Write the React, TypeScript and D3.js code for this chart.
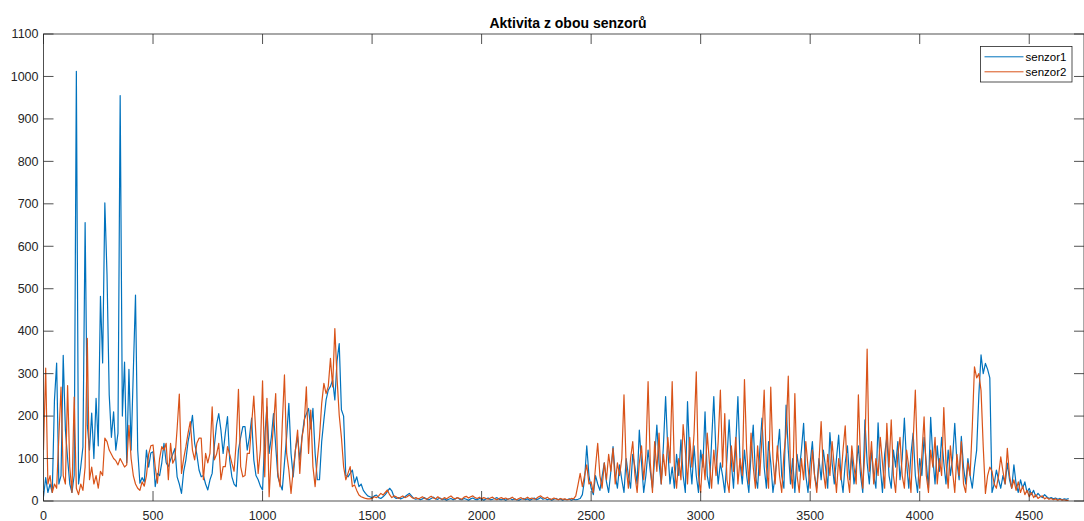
import React from "react";
import * as d3 from "d3";

// Sample index step between stored readings
const SAMPLE_STEP = 10;

// senzor1 readings, every 10 samples (0 .. 4680)
const senzor1: number[] = [
  10, 55, 20, 40, 20, 237, 325, 40, 60, 343,
  167, 100, 40, 20, 60, 1012, 40, 80, 127, 656,
  180, 120, 207, 100, 242, 130, 482, 325, 702, 532,
  250, 150, 210, 120, 160, 955, 200, 327, 90, 310,
  120, 305, 485, 120, 42, 55, 45, 120, 80, 113,
  116, 34, 65, 60, 90, 136, 90, 81, 97, 110,
  124, 57, 40, 18, 70, 97, 140, 167, 202, 136,
  110, 73, 57, 60, 40, 26, 50, 65, 130, 180,
  206, 167, 112, 160, 199, 97, 57, 40, 34, 120,
  150, 175, 175, 120, 150, 195, 97, 60, 50, 35,
  26, 150, 222, 112, 150, 206, 130, 57, 40, 26,
  90, 152, 230, 112, 57, 120, 152, 97, 150, 191,
  205, 218, 170, 218, 112, 50, 50, 140, 191, 238,
  261, 270, 285, 238, 330, 371, 215, 200, 60, 57,
  65, 73, 42, 57, 34, 40, 25, 18, 12, 10,
  8, 12, 14, 8, 6, 10, 15, 22, 30, 24,
  10, 6, 8, 5, 7, 10, 14, 18, 12, 6,
  4, 6, 3, 5, 8, 4, 3, 6, 9, 5,
  4, 7, 3, 5, 2, 4, 6, 3, 5, 8,
  4, 3, 6, 4, 2, 5, 7, 4, 3, 6,
  4, 2, 5, 7, 3, 4, 6, 8, 4, 3,
  5, 2, 4, 6, 3, 5, 3, 2, 4, 6,
  3, 5, 2, 4, 7, 3, 5, 8, 4, 6,
  3, 5, 2, 4, 6, 3, 5, 2, 4, 3,
  5, 2, 4, 3, 4, 6, 15, 50, 130, 60,
  30, 15, 60, 40, 25, 57, 90, 45, 20, 70,
  128, 60, 30, 85, 50, 20, 100, 60, 30, 110,
  80, 40, 167, 90, 20, 60, 120, 70, 30, 100,
  179, 90, 40, 130, 246, 120, 40, 80, 30, 110,
  60, 144, 60, 20, 234, 100, 40, 130, 60, 20,
  120, 80, 210, 60, 30, 140, 246, 110, 40, 90,
  60, 20, 100, 191, 90, 30, 130, 246, 90, 40,
  120, 60, 20, 110, 179, 60, 30, 120, 195, 80,
  30, 140, 90, 20, 60, 110, 169, 60, 30, 226,
  120, 40, 100, 20, 110, 70, 120, 183, 60, 20,
  90, 140, 60, 30, 100, 50, 120, 80, 30, 161,
  90, 40, 100, 155, 60, 20, 90, 130, 50, 110,
  40, 80, 130, 60, 20, 191, 90, 40, 120, 60,
  30, 184, 80, 20, 110, 150, 60, 30, 120, 80,
  140, 50, 100, 195, 90, 30, 110, 160, 60, 20,
  100, 60, 150, 90, 30, 197, 100, 40, 130, 70,
  150, 90, 40, 120, 60, 100, 183, 90, 50, 152,
  80, 40, 100, 60, 30, 80, 120, 250, 344, 300,
  324, 310, 290, 20, 40, 73, 50, 30, 60, 40,
  89, 50, 30, 85, 40, 20, 50, 30, 45, 20,
  30, 15, 25, 10, 18, 12, 8, 15, 10, 6,
  8, 5, 7, 4, 6, 3, 5, 4, 6,
];

// senzor2 readings, every 10 samples (0 .. 4680)
const senzor2: number[] = [
  120, 313, 40, 60, 20, 40, 30, 150, 268, 60,
  40, 272, 80, 20, 245, 30, 15, 40, 25, 80,
  383, 50, 80, 40, 60, 30, 70, 60, 148, 140,
  120, 110, 100, 95, 85, 100, 90, 80, 85, 178,
  100, 60, 40, 30, 25, 45, 35, 60, 110, 130,
  132, 80, 42, 100, 128, 120, 136, 50, 136, 89,
  100, 170, 252, 65, 100, 128, 160, 187, 120, 97,
  136, 148, 148, 50, 112, 90, 112, 222, 97, 110,
  136, 50, 81, 81, 128, 110, 89, 70, 140, 263,
  81, 57, 60, 112, 112, 180, 247, 152, 65, 120,
  283, 57, 242, 10, 112, 180, 253, 65, 34, 180,
  297, 112, 73, 18, 73, 120, 167, 65, 150, 180,
  269, 112, 214, 81, 34, 97, 150, 230, 277, 253,
  270, 336, 269, 406, 290, 202, 150, 81, 50, 65,
  81, 34, 38, 25, 14, 10, 8, 6, 5, 5,
  6, 10, 8, 12, 18, 14, 20, 26, 15, 8,
  12, 10, 6, 9, 12, 8, 10, 14, 9, 6,
  8, 5, 7, 10, 6, 4, 8, 11, 7, 5,
  10, 6, 4, 8, 5, 9, 12, 7, 5, 8,
  6, 4, 9, 11, 7, 10, 12, 8, 6, 9,
  5, 8, 6, 4, 7, 9, 5, 3, 6, 8,
  5, 7, 4, 6, 9, 5, 3, 6, 8, 4,
  6, 9, 5, 7, 4, 6, 10, 12, 8, 6,
  9, 5, 4, 7, 5, 3, 6, 4, 5, 3,
  4, 6, 5, 12, 38, 65, 34, 60, 85, 40,
  45, 20, 80, 136, 60, 30, 90, 50, 110, 70,
  124, 40, 90, 60, 100, 250, 80, 30, 100, 140,
  60, 20, 90, 130, 50, 110, 281, 90, 20, 140,
  70, 160, 40, 110, 60, 150, 90, 281, 80, 30,
  100, 50, 180, 120, 40, 150, 80, 160, 304, 60,
  20, 110, 50, 160, 90, 30, 120, 60, 140, 261,
  80, 206, 50, 20, 130, 70, 150, 40, 100, 60,
  286, 120, 40, 160, 80, 30, 130, 60, 150, 261,
  80, 30, 268, 100, 40, 130, 60, 20, 110, 160,
  294, 70, 30, 253, 60, 20, 100, 50, 140, 80,
  30, 120, 60, 20, 90, 187, 70, 30, 110, 60,
  140, 80, 20, 100, 50, 120, 177, 60, 20, 130,
  80, 40, 250, 90, 30, 120, 358, 70, 140, 40,
  100, 60, 150, 90, 30, 183, 80, 191, 60, 20,
  110, 150, 60, 30, 120, 80, 20, 140, 261, 90,
  30, 110, 198, 60, 20, 120, 80, 150, 40, 100,
  60, 220, 90, 30, 130, 70, 20, 110, 60, 140,
  40, 20, 90, 60, 175, 316, 290, 300, 260, 128,
  18, 60, 80, 70, 40, 30, 60, 104, 70, 40,
  124, 60, 30, 50, 25, 45, 20, 35, 15, 25,
  10, 20, 8, 15, 6, 10, 12, 5, 8, 4,
  6, 3, 5, 2, 4, 2, 3, 1, 2,
];

const seriesNames = ["senzor1", "senzor2"];
const seriesColors = ["#0072BD", "#D95319"];
const xTicks = [0, 500, 1000, 1500, 2000, 2500, 3000, 3500, 4000, 4500];
const yTicks = [0, 100, 200, 300, 400, 500, 600, 700, 800, 900, 1000, 1100];
const xDomain = [0, 4750];
const yDomain = [0, 1100];
const title = "Aktivita z obou senzorů";

const W = 1084;
const H = 521;
const L = 43.5;
const R = 1084;
const T = 34;
const B = 501;
const AX = "#262626";
const FONT = "'Liberation Sans', Arial, Helvetica, sans-serif";

export default function App() {
  const x = d3.scaleLinear().domain(xDomain).range([L, R]);
  const y = d3.scaleLinear().domain(yDomain).range([B, T]);
  const line = d3
    .line<number>()
    .x((_, i) => x(i * SAMPLE_STEP))
    .y((v) => y(v));
  const series = [senzor1, senzor2];
  const tickLen = 10;

  return (
    <svg
      width={W}
      height={H}
      style={{ position: "absolute", left: 0, top: 0, background: "#fff" }}
    >
      <defs>
        <clipPath id="plotClip">
          <rect x={L} y={T} width={R - L} height={B - T} />
        </clipPath>
      </defs>
      <rect x={0} y={0} width={W} height={H} fill="#fff" />
      <g clipPath="url(#plotClip)">
        {series.map((s, k) => (
          <path
            key={k}
            d={line(s) || ""}
            fill="none"
            stroke={seriesColors[k]}
            strokeWidth={1.2}
            strokeLinejoin="round"
          />
        ))}
      </g>
      {/* axes box */}
      <rect x={L} y={T} width={R - L} height={B - T} fill="none" stroke={AX} strokeWidth={0.8} />
      {/* x ticks */}
      {xTicks.map((t) => (
        <g key={"x" + t}>
          <line x1={x(t)} x2={x(t)} y1={B} y2={B - tickLen} stroke={AX} strokeWidth={0.8} />
          <line x1={x(t)} x2={x(t)} y1={T} y2={T + tickLen} stroke={AX} strokeWidth={0.8} />
          <text
            x={x(t)}
            y={519.5}
            textAnchor="middle"
            fontFamily={FONT}
            fontSize={12.5}
            fill={AX}
          >
            {t}
          </text>
        </g>
      ))}
      {/* y ticks */}
      {yTicks.map((t) => (
        <g key={"y" + t}>
          <line x1={L} x2={L + tickLen} y1={y(t)} y2={y(t)} stroke={AX} strokeWidth={0.8} />
          <line x1={R} x2={R - tickLen} y1={y(t)} y2={y(t)} stroke={AX} strokeWidth={0.8} />
          <text
            x={38.5}
            y={y(t) + 4.3}
            textAnchor="end"
            fontFamily={FONT}
            fontSize={12.5}
            fill={AX}
          >
            {t}
          </text>
        </g>
      ))}
      {/* title */}
      <text
        x={568}
        y={27.5}
        textAnchor="middle"
        fontFamily={FONT}
        fontSize={14}
        fontWeight="bold"
        fill="#000"
      >
        {title}
      </text>
      {/* legend */}
      <g>
        <rect x={980.5} y={46.5} width={91.5} height={35.5} fill="#fff" stroke={AX} strokeWidth={0.8} />
        {seriesNames.map((n, k) => (
          <g key={n}>
            <line
              x1={984.5}
              x2={1023.5}
              y1={56.8 + k * 15}
              y2={56.8 + k * 15}
              stroke={seriesColors[k]}
              strokeWidth={1}
            />
            <text
              x={1025.5}
              y={56.8 + k * 15 + 4}
              fontFamily={FONT}
              fontSize={11.5}
              fill="#000"
            >
              {n}
            </text>
          </g>
        ))}
      </g>
    </svg>
  );
}
